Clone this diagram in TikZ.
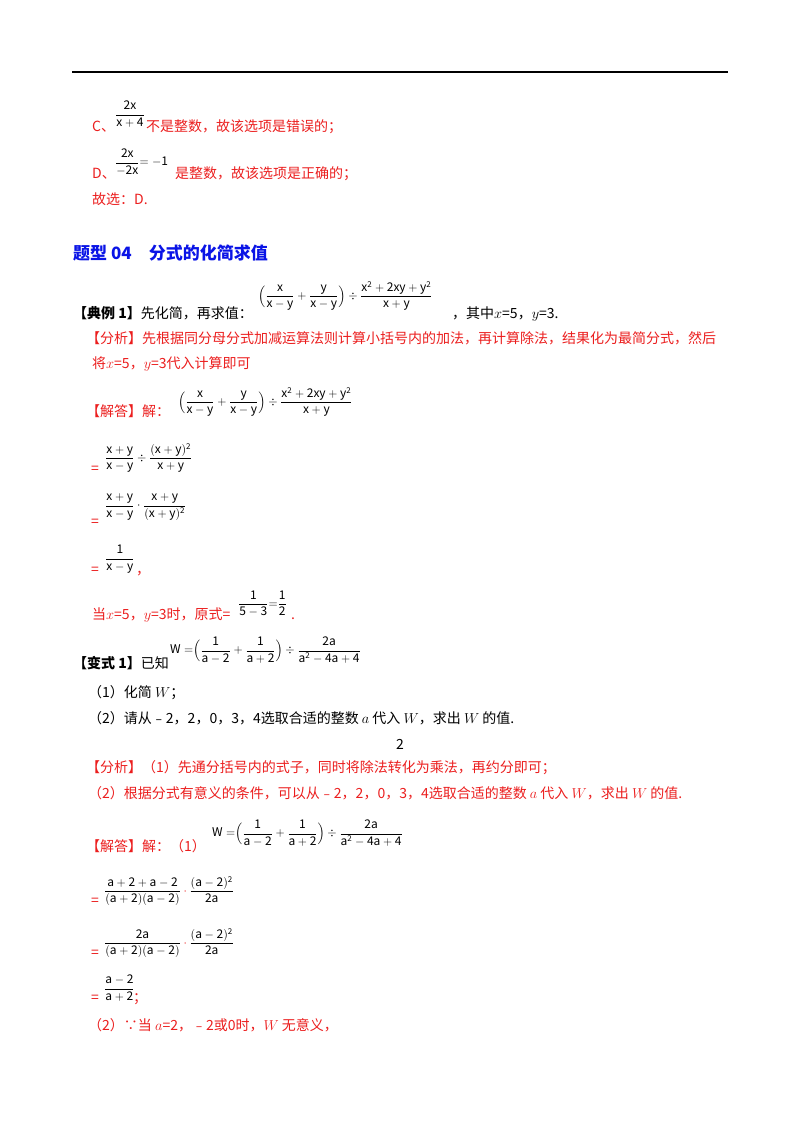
\documentclass[tikz,border=0pt]{standalone}
\usepackage{amsmath}
\usepackage{fontspec}
\setmainfont{Noto Sans CJK SC}
\definecolor{rd}{RGB}{235,30,30}
\definecolor{bl}{RGB}{10,20,230}
\newcommand{\fr}[2]{\displaystyle\frac{\mathrm{#1}}{\mathrm{#2}}}
\begin{document}
\begin{tikzpicture}[x=1pt,y=-1pt,
  txt/.style={anchor=base west,inner sep=0pt,font=\fontsize{14}{16}\selectfont},
  rtxt/.style={txt,text=rd},
  mth/.style={anchor=west,inner sep=0pt,font=\fontsize{12}{14}\selectfont},
  rmth/.style={mth,text=rd}]
\useasboundingbox (0,0) rectangle (800,1132);
\draw[line width=1.2pt] (72,72) coordinate (r1) -- (728,72) coordinate (r2);
% C, D
\node[rtxt] (c1) at (92,131) {\textit{C}、};
\node[mth] (c2) at (115,114) {$\fr{2x}{x+4}$};
\node[rtxt] (c3) at (146,131) {不是整数，故该选项是错误的；};
\node[rtxt] (d1) at (92,178) {\textit{D}、};
\node[mth] (d2) at (115,162) {$\fr{2x}{-2x}\mathrm{=-1}$};
\node[rtxt] (d3) at (175,178) {是整数，故该选项是正确的；};
\node[rtxt] (g1) at (92,204) {故选：\textit{D}.};
\node[txt,text=bl,font=\fontsize{17}{19}\bfseries\selectfont] (h1) at (73,259) {题型 04\quad 分式的化简求值};
% dianli
\node[txt] (e1) at (73,318) {\textbf{【典例 1】}先化简，再求值：};
\node[mth] (e2) at (258,296) {$\Big(\fr{x}{x-y}+\fr{y}{x-y}\Big)\div\fr{x^2+2xy+y^2}{x+y}$};
\node[txt] (e3) at (452,318) {，其中$x$=5，$y$=3.};
\node[rtxt] (f1) at (86,343) {【分析】先根据同分母分式加减运算法则计算小括号内的加法，再计算除法，结果化为最简分式，然后};
\node[rtxt] (f2) at (92,368) {将$x$=5，$y$=3代入计算即可};
\node[rtxt] (j1) at (86,416) {【解答】解：};
\node[mth] (j2) at (178,402) {$\Big(\fr{x}{x-y}+\fr{y}{x-y}\Big)\div\fr{x^2+2xy+y^2}{x+y}$};
\node[rtxt] (q1) at (91,473) {=};
\node[mth] (q1f) at (105,458) {$\fr{x+y}{x-y}\div\fr{(x+y)^2}{x+y}$};
\node[rtxt] (q2) at (91,526) {=};
\node[mth] (q2f) at (105,507) {$\fr{x+y}{x-y}\cdot\fr{x+y}{(x+y)^2}$};
\node[rtxt] (q3) at (91,574) {=};
\node[mth] (q3f) at (105,559) {$\fr{1}{x-y}$};
\node[rtxt] (q3c) at (136,574) {，};
\node[rtxt] (w1) at (92,619) {当$x$=5，$y$=3时，原式=};
\node[mth] (w2) at (238,604) {$\fr{1}{5-3}\mathrm{=}\fr{1}{2}$};
\node[rtxt] (w3) at (291,619) {.};
% bianshi
\node[txt] (b1) at (73,668) {\textbf{【变式 1】}已知};
\node[mth] (b2) at (170,650) {$\mathrm{W=}\Big(\fr{1}{a-2}+\fr{1}{a+2}\Big)\div\fr{2a}{a^2-4a+4}$};
\node[txt] (b3) at (88,697) {（1）化简 $W$；};
\node[txt] (b4) at (88,723) {（2）请从﹣2，2，0，3，4选取合适的整数 $a$ 代入 $W$，求出 $W$ 的值.};
\node[txt] (pg) at (396,749) {2};
\node[rtxt] (k1) at (86,772) {【分析】（1）先通分括号内的式子，同时将除法转化为乘法，再约分即可；};
\node[rtxt] (k2) at (88,798) {（2）根据分式有意义的条件，可以从﹣2，2，0，3，4选取合适的整数 $a$ 代入 $W$，求出 $W$ 的值.};
\node[rtxt] (m1) at (86,851) {【解答】解：（1）};
\node[mth] (m2) at (212,833) {$\mathrm{W=}\Big(\fr{1}{a-2}+\fr{1}{a+2}\Big)\div\fr{2a}{a^2-4a+4}$};
\node[rtxt] (n1) at (91,905) {=};
\node[mth] (n1f) at (104,891) {$\fr{a+2+a-2}{(a+2)(a-2)}\color{rd}\cdot\color{black}\fr{(a-2)^2}{2a}$};
\node[rtxt] (n2) at (91,957) {=};
\node[mth] (n2f) at (104,943) {$\fr{2a}{(a+2)(a-2)}\color{rd}\cdot\color{black}\fr{(a-2)^2}{2a}$};
\node[rtxt] (n3) at (91,1002) {=};
\node[mth] (n3f) at (104,988) {$\fr{a-2}{a+2}$};
\node[rtxt] (n3c) at (133,1002) {；};
\node[rtxt] (z1) at (88,1030) {（2）∵当 $a$=2，﹣2或0时，$W$ 无意义，};
\end{tikzpicture}
\end{document}
